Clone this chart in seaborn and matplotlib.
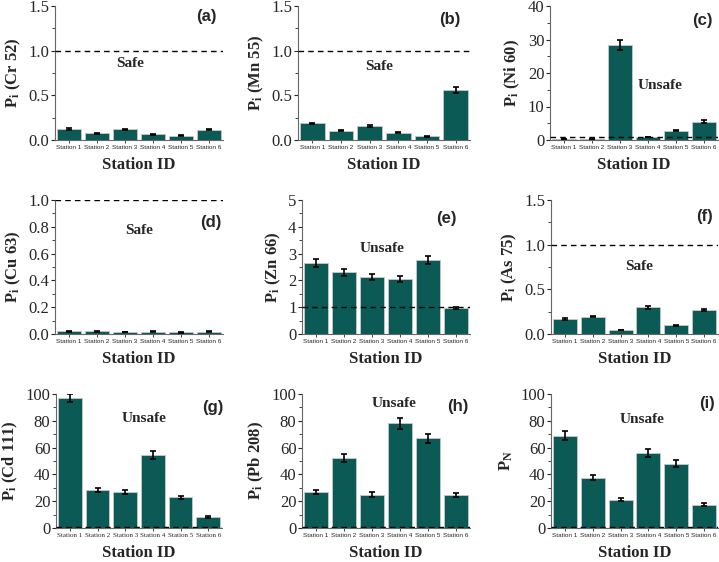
import numpy as np
import pandas as pd
import matplotlib
matplotlib.use("Agg")
import matplotlib.pyplot as plt
from matplotlib.ticker import AutoMinorLocator, FormatStrFormatter
import seaborn as sns

stations = ["Station 1", "Station 2", "Station 3", "Station 4", "Station 5", "Station 6"]

cr = [0.125, 0.075, 0.12, 0.065, 0.05, 0.115]
cr_err = [0.008, 0.005, 0.008, 0.005, 0.004, 0.008]
mn = [0.185, 0.105, 0.16, 0.08, 0.04, 0.56]
mn_err = [0.01, 0.006, 0.01, 0.005, 0.004, 0.03]
ni = [0.25, 0.35, 28.5, 0.9, 2.8, 5.5]
ni_err = [0.03, 0.04, 1.5, 0.08, 0.2, 0.4]
cu = [0.02, 0.02, 0.015, 0.018, 0.012, 0.017]
cu_err = [0.002, 0.002, 0.002, 0.002, 0.002, 0.002]
zn = [2.65, 2.3, 2.12, 2.05, 2.77, 0.97]
zn_err = [0.15, 0.12, 0.12, 0.12, 0.15, 0.05]
as_ = [0.17, 0.195, 0.045, 0.30, 0.10, 0.27]
as_err = [0.01, 0.01, 0.005, 0.015, 0.006, 0.015]
cd = [97, 28.5, 27, 54.5, 23, 8.2]
cd_err = [3.0, 1.6, 1.6, 3.0, 1.2, 0.4]
pb = [27, 52, 25, 78, 67, 24.5]
pb_err = [1.5, 3.0, 1.5, 4.0, 3.5, 1.5]
pn = [69, 37.5, 21, 56, 48, 17.5]
pn_err = [3.5, 2.0, 1.2, 3.0, 2.8, 1.0]

sns.set_style("ticks")
plt.rcParams["font.family"] = ["Liberation Serif", "DejaVu Serif"]
plt.rcParams["mathtext.fontset"] = "custom"
plt.rcParams["mathtext.rm"] = "Liberation Serif:bold"
plt.rcParams["mathtext.it"] = "Liberation Serif:bold"
plt.rcParams["mathtext.bf"] = "Liberation Serif:bold"

bar_color = "#0b5a55"
W, H = 719, 562

# values, errors, ylabel, ymax, step, label, status, status pos, label pos, axes box (px), tick font
panels = [
    (cr, cr_err, "P$_\\mathrm{i}$ (Cr 52)", 1.5, 0.5, "(a)", "Safe", (0.45, 0.57), (0.90, 0.92), (55, 6, 223, 140), "sans"),
    (mn, mn_err, "P$_\\mathrm{i}$ (Mn 55)", 1.5, 0.5, "(b)", "Safe", (0.47, 0.55), (0.88, 0.90), (298, 6, 470, 140), "sans"),
    (ni, ni_err, "P$_\\mathrm{i}$ (Ni 60)", 40, 10, "(c)", "Unsafe", (0.655, 0.41), (0.905, 0.89), (550, 6, 718, 140), "sans"),
    (cu, cu_err, "P$_\\mathrm{i}$ (Cu 63)", 1.0, 0.2, "(d)", "Safe", (0.50, 0.77), (0.93, 0.83), (55, 200, 223, 334), "sans"),
    (zn, zn_err, "P$_\\mathrm{i}$ (Zn 66)", 5, 1, "(e)", "Unsafe", (0.476, 0.64), (0.86, 0.86), (302, 200, 470, 334), "sans"),
    (as_, as_err, "P$_\\mathrm{i}$ (As 75)", 1.5, 0.5, "(f)", "Safe", (0.53, 0.50), (0.92, 0.88), (551, 200, 718, 334), "sans"),
    (cd, cd_err, "P$_\\mathrm{i}$ (Cd 111)", 100, 20, "(g)", "Unsafe", (0.53, 0.82), (0.945, 0.90), (56, 394, 222, 528), "serif"),
    (pb, pb_err, "P$_\\mathrm{i}$ (Pb 208)", 100, 20, "(h)", "Unsafe", (0.55, 0.93), (0.93, 0.91), (302, 394, 470, 528), "sans"),
    (pn, pn_err, "P$_\\mathrm{N}$", 100, 20, "(i)", "Unsafe", (0.545, 0.81), (0.935, 0.93), (551, 394, 718, 528), "sans"),
]

fig = plt.figure(figsize=(W / 100, H / 100), dpi=100)

for vals, errs, ylab, ymax, step, lab, status, spos, lpos, box, xfont in panels:
    x0, y0, x1, y1 = box
    ax = fig.add_axes([x0 / W, 1 - y1 / H, (x1 - x0) / W, (y1 - y0) / H])
    df = pd.DataFrame({"station": stations, "value": vals})
    sns.barplot(data=df, x="station", y="value", color=bar_color, saturation=1,
                width=0.86, edgecolor="#c8c8c8", linewidth=0.6, errorbar=None, ax=ax)
    ax.errorbar(range(len(vals)), vals, yerr=errs, fmt="none", ecolor="black",
                elinewidth=1.2, capsize=2, capthick=1.2, zorder=5)
    ax.axhline(1.0, color="black", linestyle=(0, (4, 3)), linewidth=1.0, zorder=6)
    ax.set_ylim(0, ymax)
    ax.set_xlim(-0.5, 5.5)
    ax.set_yticks(np.arange(0, ymax + step / 2, step))
    ax.yaxis.set_minor_locator(AutoMinorLocator(2))
    ax.tick_params(axis="y", labelsize=12, length=3, width=0.8, pad=1)
    ax.tick_params(axis="y", which="minor", length=2, width=0.6)
    ax.tick_params(axis="x", length=2, width=0.6, pad=1.5)
    if xfont == "serif":
        ax.set_xticks(range(6), stations, fontsize=5.0, family="Liberation Serif")
    else:
        ax.set_xticks(range(6), stations, fontsize=4.6, family="Liberation Sans")
    if ymax in (1.5, 1.0):
        ax.yaxis.set_major_formatter(FormatStrFormatter("%.1f"))
    ax.set_xlabel("Station ID", fontsize=12, fontweight="bold", labelpad=5)
    ax.set_ylabel(ylab, fontsize=12, fontweight="bold", labelpad=4)
    for s in ["top", "right"]:
        ax.spines[s].set_visible(False)
    for s in ["left", "bottom"]:
        ax.spines[s].set_color("#666666")
        ax.spines[s].set_linewidth(0.8)
    ax.text(spos[0], spos[1], status, transform=ax.transAxes, ha="center", va="center",
            fontsize=11, fontweight="bold")
    ax.text(lpos[0], lpos[1], lab, transform=ax.transAxes, ha="center", va="center",
            fontsize=12, fontweight="bold", family="Liberation Sans")

fig.savefig("out.png", dpi=100)
